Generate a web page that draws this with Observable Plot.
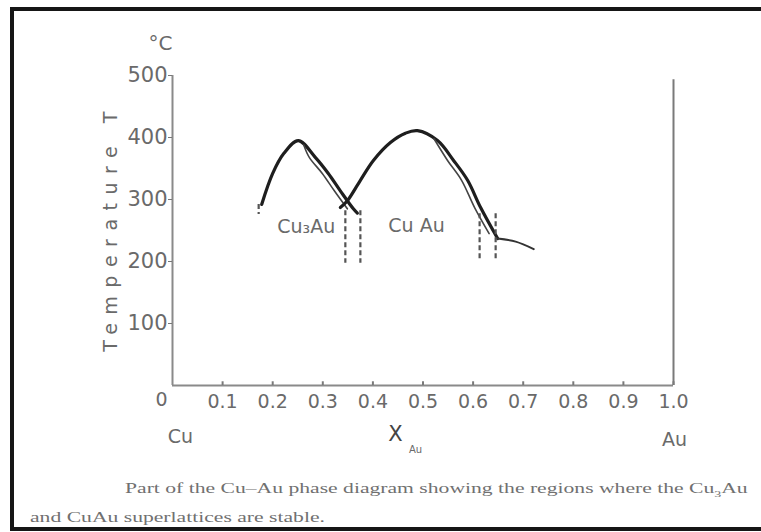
<!DOCTYPE html>
<html>
<head>
<meta charset="utf-8">
<script src="https://cdn.jsdelivr.net/npm/d3@7"></script>
<script src="https://cdn.jsdelivr.net/npm/@observablehq/plot@0.6"></script>
<style>
  html, body { margin: 0; padding: 0; background: #fff; }
  body { position: relative; width: 761px; height: 532px; overflow: hidden; }
  #chart { position: absolute; left: 0; top: 0; }
  #frame { position: absolute; left: 10px; top: 7px; width: 800px; height: 524px;
           border: 4px solid #161616; border-right: none; box-sizing: border-box; pointer-events: none; }
  .cap { position: absolute; white-space: nowrap; font-family: "Liberation Serif", "DejaVu Serif", serif;
         font-size: 14px; color: #707070; transform: scaleX(1.545); transform-origin: 0 50%; }
</style>
</head>
<body>
<div id="chart"></div>
<div id="frame"></div>
<div class="cap" style="left:125px; top:481px;">Part of the Cu–Au phase diagram showing the regions where the Cu<sub style="font-size:9px">3</sub>Au</div>
<div class="cap" style="left:30px; top:510px;">and CuAu superlattices are stable.</div>
<script>
// ---- data ----
const xTicks = [0.1, 0.2, 0.3, 0.4, 0.5, 0.6, 0.7, 0.8, 0.9, 1.0];
const xTickLabels = ["0.1", "0.2", "0.3", "0.4", "0.5", "0.6", "0.7", "0.8", "0.9", "1.0"];
const yTicks = [100, 200, 300, 400, 500];

// Cu3Au ordering boundary (thick) and inner boundary (thin)
const cu3auX = [0.178, 0.200, 0.222, 0.251, 0.285, 0.311, 0.335, 0.361, 0.369];
const cu3auT = [292, 342, 374, 395, 368, 342, 314, 285, 278];
const cu3auInnerX = [0.262, 0.273, 0.299, 0.323, 0.349];
const cu3auInnerT = [388, 368, 342, 314, 285];

// CuAu ordering boundary (thick) and inner boundary (thin)
const cuauX = [0.335, 0.349, 0.375, 0.401, 0.435, 0.465, 0.489, 0.529, 0.561, 0.589, 0.615, 0.649];
const cuauT = [287, 298, 331, 363, 392, 407, 411, 395, 363, 331, 287, 237];
const cuauInnerX = [0.522, 0.549, 0.577, 0.603, 0.632];
const cuauInnerT = [398, 363, 331, 287, 245];
const tailX = [0.649, 0.685, 0.721];
const tailT = [237, 232, 220];

// dashed phase-boundary segments
const dashX = [0.172, 0.345, 0.375, 0.613, 0.645];
const dashTop = [292, 282, 282, 277, 277];
const dashBottom = [276, 197, 197, 202, 202];

// region labels
const regionNames = ["Cu\u2083Au", "Cu Au"];
const regionX = [0.267, 0.487];
const regionT = [255, 257];

const xLabelMap = new Map(xTicks.map((d, i) => [d, xTickLabels[i]]));
const pts = (X, T) => X.map((x, i) => ({x, t: T[i]}));
const ink = "#1e1e1e";
const grey = "#6a6a6a";
const font = "DejaVu Sans";

const plot = Plot.plot({
  width: 761,
  height: 470,
  marginLeft: 172,
  marginRight: 88,
  marginTop: 75,
  marginBottom: 85,
  x: {domain: [0, 1]},
  y: {domain: [0, 500]},
  style: {background: "transparent", fontFamily: font, color: grey, overflow: "visible"},
  marks: [
    // axes frame lines
    Plot.ruleY([0], {x1: 0, x2: 1, stroke: "#8a8a8a", strokeWidth: 2}),
    Plot.ruleX([0], {y1: 0, y2: 500, stroke: "#8a8a8a", strokeWidth: 2}),
    Plot.ruleX([1], {y1: 0, y2: 493, stroke: "#7a7a7a", strokeWidth: 2}),
    // x ticks (inward)
    Plot.ruleX(xTicks, {y1: 0, y2: 6, stroke: "#7a7a7a", strokeWidth: 2}),
    Plot.axisX(xTicks, {tickSize: 0, tickPadding: 9, tickFormat: d => xLabelMap.get(d),
      fontSize: 19, fill: grey, label: null}),
    Plot.text(["0"], {frameAnchor: "bottom-left", textAnchor: "middle", dx: -11, dy: 20, fontSize: 19, fill: grey}),
    // y axis
    Plot.axisY(yTicks, {tickSize: 4, tickPadding: 1, fontSize: 21, fill: grey, stroke: "#777", label: null}),
    Plot.text(["°C"], {frameAnchor: "top-left", textAnchor: "middle", dx: -12, dy: -40, fontSize: 20, fill: grey}),
    Plot.text(["Temperature T"], {frameAnchor: "left", textAnchor: "middle", dx: -62, dy: -3, rotate: -90, fontSize: 19, fill: grey}),
    // x labels
    Plot.text(["Cu"], {frameAnchor: "bottom-left", textAnchor: "middle", dx: 8, dy: 57, fontSize: 19, fill: grey}),
    Plot.text(["Au"], {frameAnchor: "bottom-right", textAnchor: "middle", dx: 1, dy: 60, fontSize: 19, fill: grey}),
    Plot.text(["X"], {x: [0.445], frameAnchor: "bottom", dy: 55, fontSize: 21, fill: "#444"}),
    Plot.text(["Au"], {x: [0.485], frameAnchor: "bottom", dy: 67, fontSize: 10, fill: grey}),
    // curves
    Plot.line(pts(cu3auX, cu3auT), {x: "x", y: "t", curve: "catmull-rom", stroke: ink, strokeWidth: 3.2}),
    Plot.line(pts(cu3auInnerX, cu3auInnerT), {x: "x", y: "t", curve: "catmull-rom", stroke: "#444", strokeWidth: 1.6}),
    Plot.line(pts(cuauX, cuauT), {x: "x", y: "t", curve: "catmull-rom", stroke: ink, strokeWidth: 3.2}),
    Plot.line(pts(cuauInnerX, cuauInnerT), {x: "x", y: "t", curve: "catmull-rom", stroke: "#444", strokeWidth: 1.6}),
    Plot.line(pts(tailX, tailT), {x: "x", y: "t", curve: "catmull-rom", stroke: "#333", strokeWidth: 2}),
    Plot.ruleX(dashX, {y1: dashTop, y2: dashBottom, stroke: "#555", strokeWidth: 2.2, strokeDasharray: "5,3"}),
    // region labels
    Plot.text(regionNames, {x: regionX, y: regionT, fontSize: 19, fill: grey})
  ]
});
document.getElementById("chart").appendChild(plot);

// letter-spacing for the rotated axis title
d3.select(plot).selectAll("text")
  .filter(function() { return this.textContent === "Temperature T"; })
  .style("letter-spacing", "8.5px");
</script>
</body>
</html>
